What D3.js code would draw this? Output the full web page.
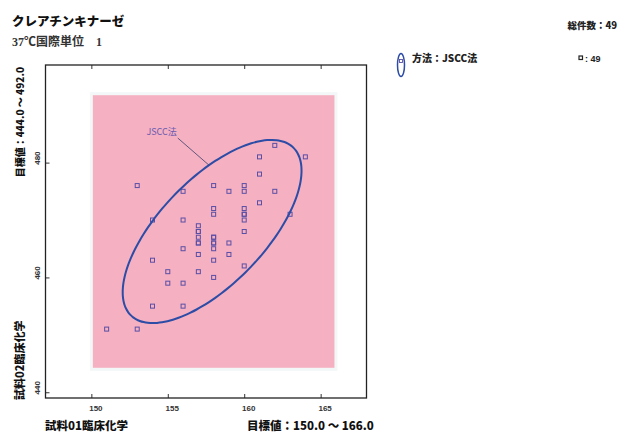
<!DOCTYPE html>
<html><head><meta charset="utf-8">
<script src="https://cdn.jsdelivr.net/npm/d3@7/dist/d3.min.js"></script>
<style>body{margin:0;background:#fff;} svg{display:block;}</style>
</head><body>
<svg id="c" width="619" height="434"></svg>
<script>
// ---------- data ----------
const titleLines = ["クレアチンキナーゼ", "37℃国際単位　1"];
const totalLabel = "総件数：49";
const methodLabel = "方法：JSCC法";
const countLabel = ": 49";
const ellipseLabel = "JSCC法";
const xAxisTitle = "試料01臨床化学";
const xRangeTitle = "目標値：150.0 ～ 166.0";
const yAxisTitle = "試料02臨床化学";
const yRangeTitle = "目標値：444.0 ～ 492.0";
const xDomain = [147, 168];
const yDomain = [439, 497];
const xTicks = [150, 155, 160, 165];
const yTicks = [440, 460, 480];
const xTarget = [150, 166];
const yTarget = [444, 492];
const sampleX = [162,164,161,161,153,156,158,159,160,160,162,161,158,158,160,160,160,163,154,156,157,157,160,157,157,158,158,159,156,158,157,159,154,158,160,155,157,158,155,156,154,156,151,153, 157,158,160,157,158];
const sampleY = [483,481,481,478,476,475,476,475,476,475,475,473,472,471,472,471,470,471,470,470,469,468,468,467,466,467,466,466,465,465,464,464,463,463,462,461,461,460,459,459,455,455,451,451, 468,466,471,466,467];
const ellipseCenter = [157.9, 468.0];
const ellipseRadii = [5.85, 15.95];
const ellipsePhaseDeg = 48.4;
const annotationAt = [153.6, 484.8];
const leaderAngleDeg = 268;

// ---------- drawing ----------
const svg = d3.select("#c");
const L = 45.5, R = 366.5, T = 65, B = 398;
const x = d3.scaleLinear().domain(xDomain).range([L, R]);
const y = d3.scaleLinear().domain(yDomain).range([B, T]);
const sans = "'Liberation Sans', 'Noto Sans CJK JP', sans-serif";
const serif = "'Liberation Serif', 'Noto Sans CJK JP', serif";
const cjk = "'Noto Sans CJK JP', sans-serif";

// titles
svg.append("text").attr("x", 12).attr("y", 26).text(titleLines[0])
  .attr("font-family", cjk).attr("font-weight", 900).attr("font-size", 12.5).attr("fill", "#111");
svg.append("text").attr("x", 12).attr("y", 46).text(titleLines[1])
  .attr("font-family", serif).attr("font-weight", "bold").attr("font-size", 12).attr("fill", "#333");
svg.append("text").attr("x", 617).attr("y", 29).attr("text-anchor", "end").text(totalLabel)
  .attr("font-family", cjk).attr("font-weight", 900).attr("font-size", 9.5).attr("fill", "#222");

// target region
svg.append("rect")
  .attr("x", x(xTarget[0])).attr("y", y(yTarget[1]))
  .attr("width", x(xTarget[1]) - x(xTarget[0]))
  .attr("height", y(yTarget[0]) - y(yTarget[1]))
  .attr("fill", "#f5b0c1").attr("stroke", "#f3f7f7").attr("stroke-width", 3);

// axes
const tickFont = g => g.selectAll("text").attr("font-family", sans).attr("font-weight", "bold")
  .attr("font-size", 8).attr("fill", "#333");
const gx = svg.append("g").attr("transform", `translate(0,${B})`)
  .call(d3.axisBottom(x).tickValues(xTicks).tickSize(-4).tickPadding(7).tickFormat(d3.format("d")));
gx.select(".domain").remove();
gx.call(tickFont); gx.selectAll("text").attr("dx", 4);
const gt = svg.append("g").attr("transform", `translate(0,${T})`)
  .call(d3.axisTop(x).tickValues(xTicks).tickSize(-4).tickFormat(""));
gt.select(".domain").remove();
const gy = svg.append("g").attr("transform", `translate(${L},0)`)
  .call(d3.axisLeft(y).tickValues(yTicks).tickSize(-4).tickFormat(""));
gy.select(".domain").remove();
gy.selectAll(".tick").append("text")
  .attr("transform", "translate(-8,-5) rotate(-90)")
  .attr("text-anchor", "middle").attr("dy", "0.35em")
  .text(d => d3.format("d")(d)).call(s => s.attr("font-family", sans).attr("font-weight", "bold")
  .attr("font-size", 8).attr("fill", "#333"));
svg.selectAll(".tick line").attr("stroke", "#333");

svg.append("rect").attr("x", L).attr("y", T).attr("width", R - L).attr("height", B - T)
  .attr("fill", "none").attr("stroke", "#222").attr("stroke-width", 1.3);

// points
svg.append("g").selectAll("rect").data(sampleX.map((v, i) => [v, sampleY[i]])).join("rect")
  .attr("x", d => x(d[0]) - 2).attr("y", d => y(d[1]) - 2)
  .attr("width", 4).attr("height", 4)
  .attr("fill", "none").attr("stroke", "#5a4fa6").attr("stroke-width", 1);

// ellipse
const ph = ellipsePhaseDeg * Math.PI / 180;
const ePt = deg => {
  const t = deg * Math.PI / 180;
  return [x(ellipseCenter[0] + ellipseRadii[0] * Math.cos(t)),
          y(ellipseCenter[1] + ellipseRadii[1] * Math.cos(t + ph))];
};
svg.append("path")
  .attr("d", d3.line().curve(d3.curveCardinalClosed)(d3.range(0, 360, 4).map(ePt)))
  .attr("fill", "none").attr("stroke", "#2c4ca6").attr("stroke-width", 2);

// annotation
const ann = svg.append("text").attr("x", x(annotationAt[0])).attr("y", y(annotationAt[1]))
  .text(ellipseLabel).attr("font-family", cjk).attr("font-size", 9).attr("fill", "#6a5bb0");
const bb = ann.node().getBBox();
const end = ePt(leaderAngleDeg);
svg.append("line").attr("x1", bb.x + bb.width + 1).attr("y1", bb.y + bb.height)
  .attr("x2", end[0]).attr("y2", end[1]).attr("stroke", "#3b3f6a").attr("stroke-width", 0.8);

// legend
svg.append("ellipse").attr("cx", 401).attr("cy", 65).attr("rx", 3.5).attr("ry", 11.5)
  .attr("fill", "none").attr("stroke", "#2c4ca6").attr("stroke-width", 1.5);
svg.append("rect").attr("x", 399.5).attr("y", 59.5).attr("width", 3).attr("height", 3)
  .attr("fill", "none").attr("stroke", "#5a4fa6").attr("stroke-width", 0.9);
svg.append("text").attr("x", 412).attr("y", 62).text(methodLabel)
  .attr("font-family", cjk).attr("font-weight", 900).attr("font-size", 10).attr("fill", "#222");
svg.append("rect").attr("x", 579).attr("y", 56).attr("width", 3.5).attr("height", 3.5)
  .attr("fill", "none").attr("stroke", "#222").attr("stroke-width", 1.2);
svg.append("text").attr("x", 585).attr("y", 62).text(countLabel)
  .attr("font-family", sans).attr("font-weight", "bold").attr("font-size", 9).attr("fill", "#222");

// axis titles
svg.append("text").attr("x", 45).attr("y", 430).text(xAxisTitle)
  .attr("font-family", cjk).attr("font-weight", 900).attr("font-size", 11.5).attr("fill", "#111");
svg.append("text").attr("x", 247).attr("y", 430).text(xRangeTitle)
  .attr("font-family", cjk).attr("font-weight", 900).attr("font-size", 11.5).attr("fill", "#111");
svg.append("text").attr("transform", "translate(24,400) rotate(-90)").text(yAxisTitle)
  .attr("font-family", cjk).attr("font-weight", 900).attr("font-size", 11).attr("fill", "#111");
svg.append("text").attr("transform", "translate(24,67) rotate(-90)").attr("text-anchor", "end").text(yRangeTitle)
  .attr("font-family", cjk).attr("font-weight", 900).attr("font-size", 10).attr("fill", "#111");
</script>
</body></html>
